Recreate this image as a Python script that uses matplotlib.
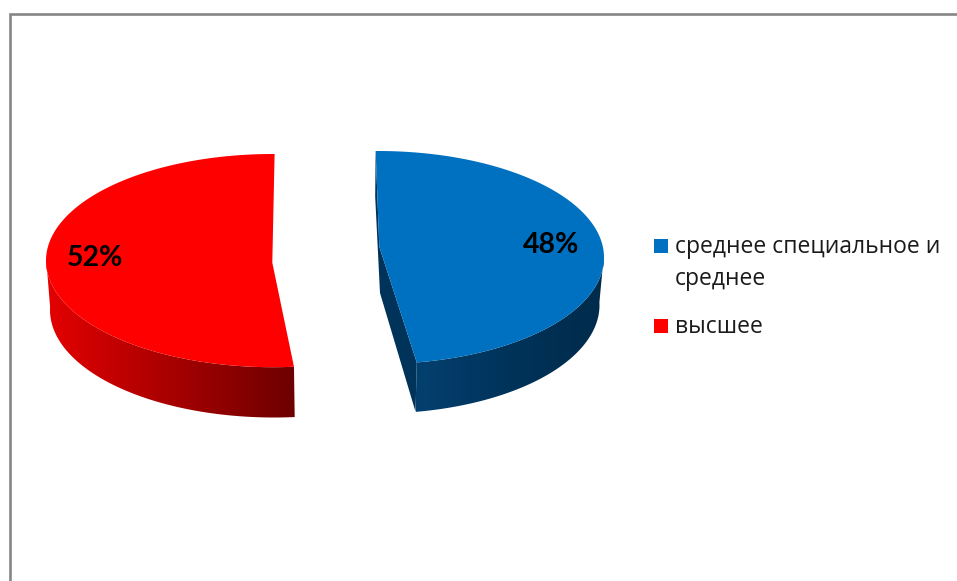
import numpy as np
import matplotlib
matplotlib.use("Agg")
import matplotlib.pyplot as plt
from matplotlib.colors import LinearSegmentedColormap
from matplotlib.patches import Polygon, Rectangle

# data
categories = ["среднее специальное и\nсреднее", "высшее"]
shares = [48, 52]
colors = ["#0070c0", "#ff0000"]

# the 3d look of each slice, in picture pixels
top_ellipse = [(378, 257.5, 226, 106.5), (273, 260.6, 227, 106.6)]
low_ellipse = [(377.5, 305, 222, 108.5), (274, 310, 224, 107.5)]
apex_top = [(379.3, 246.7), (272.3, 262.7)]
apex_low = [(380, 293), None]
start_angle = [-0.6, 174.7]
sweep_fix = [0.988, 0.992]
side_colors = [["#04406f", "#00335a", "#002b4b"], ["#e40000", "#a80000", "#6d0000"]]
side_range = [(416, 604), (46, 295)]
label_pos = [(551, 253), (95, 266)]
legend_y = [252.5, 332.7]
legend_text_y = [[253, 285], [333]]


def arc(ell, t):
    cx, cy, rx, ry = ell
    return np.column_stack([cx + rx * np.sin(np.radians(t)), cy - ry * np.cos(np.radians(t))])


fig = plt.figure(figsize=(9.57, 5.81), dpi=100)
ax = fig.add_axes([0, 0, 1, 1])
ax.axis("off")

# chart frame, only left and top are inside the crop
ax.plot([9.5, 9.5, 957], [581, 13.5, 13.5], color="#868686", lw=1.9, solid_joinstyle="miter")

for i in range(len(shares)):
    t0 = start_angle[i]
    t1 = t0 + shares[i] * 3.6 * sweep_fix[i]
    t = np.linspace(t0, t1, 300)
    top = arc(top_ellipse[i], t)
    low = arc(low_ellipse[i], t)

    # outer wall: a left to right gradient clipped to the wall shape
    vis = (t >= 88) & (t <= 272)
    outline = np.vstack([top[vis], low[vis][::-1]])
    cmap = LinearSegmentedColormap.from_list("side", side_colors[i])
    x0, x1 = side_range[i]
    grad = ax.imshow(np.linspace(0, 1, 256)[None, :], cmap=cmap, extent=(x0, x1, 430, 140),
                     aspect="auto", interpolation="bilinear", zorder=2)
    grad.set_clip_path(Polygon(outline, transform=ax.transData))

    # cut face, only the blue slice shows it
    if apex_low[i] is not None:
        cut = np.vstack([top[0], low[0], apex_low[i], low[-1], top[-1], apex_top[i]])
        ax.fill(cut[:, 0], cut[:, 1], color="#00335a", lw=0, zorder=2)

    face = np.vstack([apex_top[i], top])
    ax.fill(face[:, 0], face[:, 1], color=colors[i], lw=0, zorder=3)

    ax.text(label_pos[i][0], label_pos[i][1], f"{shares[i]}%", ha="center", va="baseline",
            fontsize=20.5, fontweight="bold", color="black", family=["Lato", "DejaVu Sans"], zorder=4)

    # legend
    ax.add_patch(Rectangle((654, legend_y[i]), 14, -14, facecolor=colors[i], edgecolor="none", zorder=4))
    for line, y in zip(categories[i].split("\n"), legend_text_y[i]):
        ax.text(675, y, line, ha="left", va="baseline", fontsize=16.5, color="#1a1a1a",
                family=["Open Sans", "DejaVu Sans"], zorder=4)

ax.set_xlim(0, 957)
ax.set_ylim(581, 0)

fig.savefig("out.png", dpi=100)
